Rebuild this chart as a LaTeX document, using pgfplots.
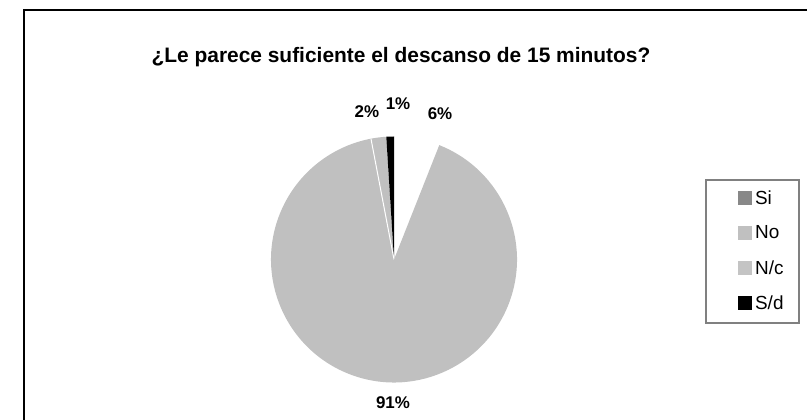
\documentclass[border=0pt]{standalone}
\usepackage{fontspec}
\setmainfont{Liberation Sans}
\usepackage{pgfplots}
\usepackage{pgfplotstable}
\pgfplotsset{compat=1.18}

\definecolor{piegray}{HTML}{C0C0C0}
\definecolor{sigray}{HTML}{888888}
\definecolor{ncgray}{HTML}{C4C4C4}
\definecolor{framegray}{HTML}{808080}

% share of answers, in %
\pgfplotstableread{
label value
Si    6
No    91
N/c   2
S/d   1
}\piedata

\begin{document}
\begin{tikzpicture}
\pgfplotstablegetelem{0}{value}\of\piedata \let\vSi\pgfplotsretval
\pgfplotstablegetelem{1}{value}\of\piedata \let\vNo\pgfplotsretval
\pgfplotstablegetelem{2}{value}\of\piedata \let\vNc\pgfplotsretval
\pgfplotstablegetelem{3}{value}\of\piedata \let\vSd\pgfplotsretval
% slice borders, clockwise from 12 o'clock
\pgfmathsetmacro\aA{90}
\pgfmathsetmacro\aB{\aA-3.6*\vSi}
\pgfmathsetmacro\aC{\aB-3.6*\vNo}
\pgfmathsetmacro\aD{\aC-3.6*\vNc}
\pgfmathsetmacro\aE{\aD-3.6*\vSd}

\path[use as bounding box] (0,0) rectangle (807bp,420bp);
\draw[line width=1.8bp] (24bp,0) -- (24bp,410bp) -- (807bp,410bp);
\node[font=\fontsize{21}{24}\selectfont\bfseries] at (401bp,363bp)
  {¿Le parece suficiente el descanso de 15 minutos?};
\draw[framegray, line width=2bp] (706bp,97bp) rectangle (799bp,240bp);

\begin{axis}[
    at={(394bp,160.5bp)}, anchor=center,
    width=246bp, height=246bp, scale only axis,
    xmin=-1, xmax=1, ymin=-1, ymax=1,
    hide axis, clip=false,
    legend image code/.code={\fill[#1, draw=none] (0bp,-7bp) rectangle (14bp,7bp);},
    legend cell align=left,
    legend style={
        at={(axis description cs:1.898,0.821)}, anchor=north west,
        draw=none, fill=none, inner sep=0pt,
        font=\fontsize{19}{21}\selectfont,
        nodes={minimum height=35bp, inner sep=0pt},
        /tikz/every odd column/.append style={column sep=3bp}
    }
]
\addlegendimage{draw=none, fill=sigray}\addlegendentry{Si}
\addlegendimage{draw=none, fill=piegray}\addlegendentry{No}
\addlegendimage{draw=none, fill=ncgray}\addlegendentry{N/c}
\addlegendimage{draw=none, fill=black}\addlegendentry{S/d}

\fill[white] (axis cs:0,0) -- (axis cs:{cos(\aA)},{sin(\aA)})
  arc[start angle=\aA, end angle=\aB, radius=1] -- cycle;
\fill[piegray] (axis cs:0,0) -- (axis cs:{cos(\aB)},{sin(\aB)})
  arc[start angle=\aB, end angle=\aC, radius=1] -- cycle;
\fill[piegray] (axis cs:0,0) -- (axis cs:{cos(\aC)},{sin(\aC)})
  arc[start angle=\aC, end angle=\aD, radius=1] -- cycle;
\fill[black] (axis cs:0,0) -- (axis cs:{cos(\aD)},{sin(\aD)})
  arc[start angle=\aD, end angle=\aE, radius=1] -- cycle;
\draw[white, line width=1bp] (axis cs:0,0) -- (axis cs:{cos(\aC)},{sin(\aC)});

\begin{scope}[every node/.style={font=\fontsize{17}{19}\selectfont\bfseries}]
\node at (axis cs:0.374,1.183) {\vSi\%};
\node at (axis cs:-0.008,-1.167) {\vNo\%};
\node at (axis cs:-0.22,1.2) {\vNc\%};
\node at (axis cs:0.033,1.27) {\vSd\%};
\end{scope}
\end{axis}
\end{tikzpicture}
\end{document}
